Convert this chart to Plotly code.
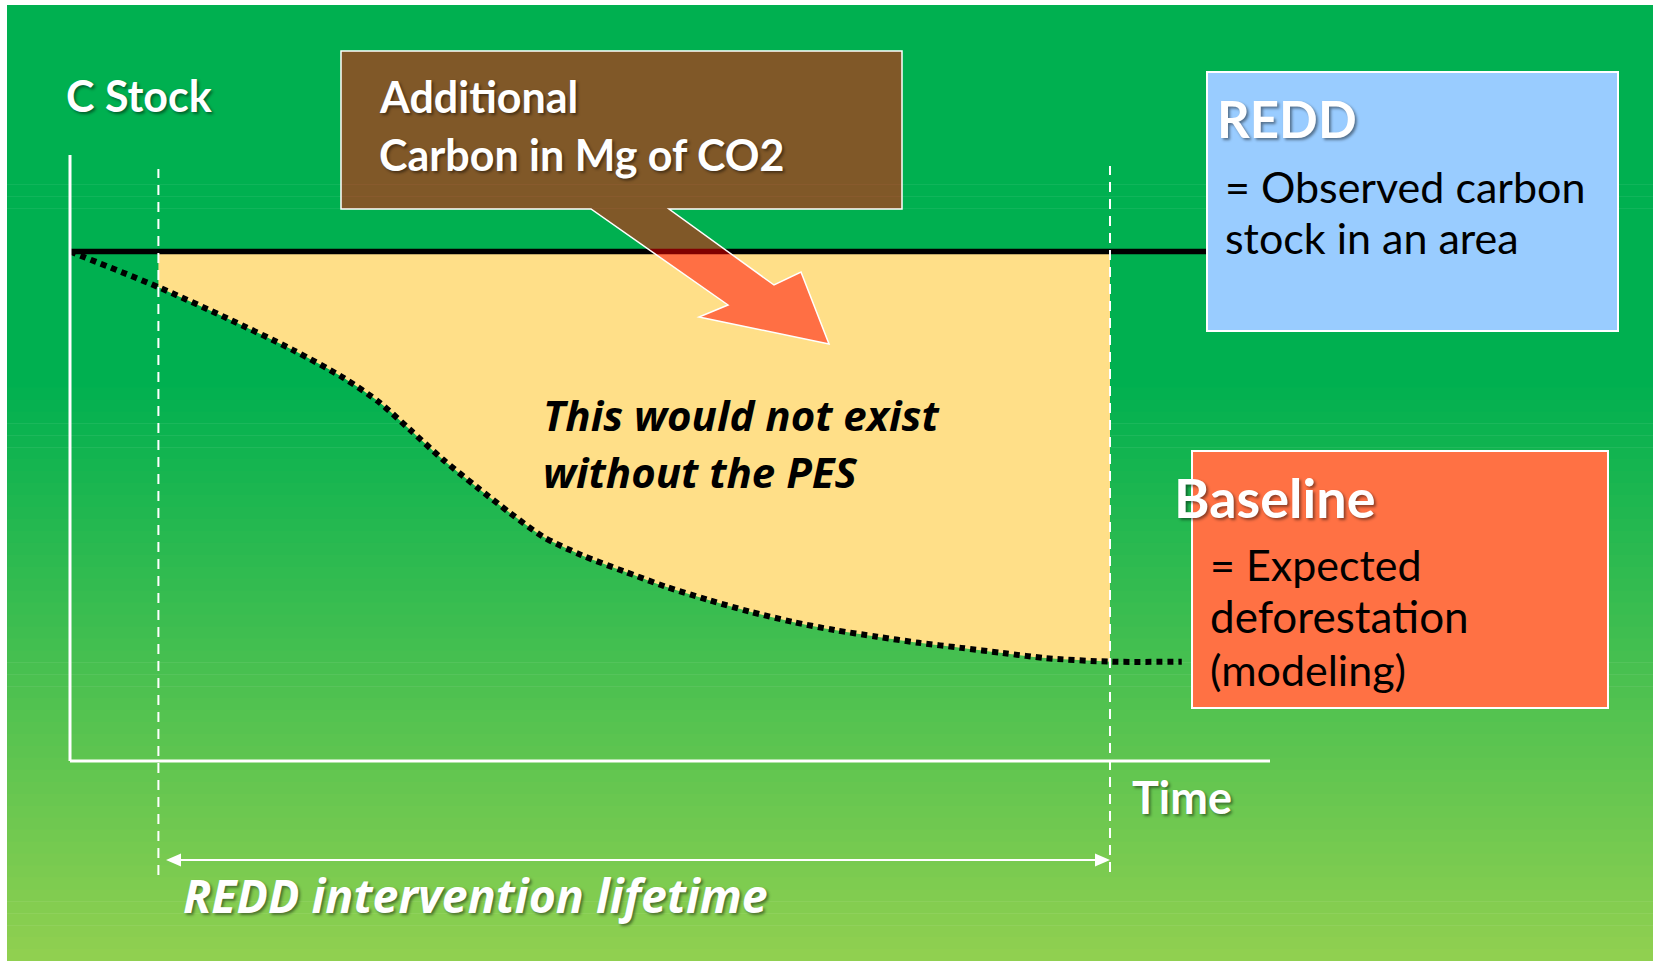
import plotly.graph_objects as go

# ---------------- data ----------------
# time axis in arbitrary units: 0 = origin, 100 = end of REDD intervention
time = [0, 8.5, 15.1, 21.4, 26.3, 29.8, 32.7, 35.9, 39.1, 42.3, 45.5, 49.2, 53.3,
        57.3, 61.4, 65.4, 69.5, 73.5, 77.6, 81.6, 85.7, 89.7, 93.8, 100, 106.9]
# baseline (expected deforestation) carbon stock, % of initial stock
baseline = [100, 93.0, 86.9, 80.7, 75.2, 70.3, 65.0, 59.1, 53.8, 48.7, 44.0, 40.4, 37.2,
            34.2, 31.6, 29.3, 27.3, 25.7, 24.4, 23.2, 22.2, 21.2, 20.2, 19.5, 19.5]
# observed carbon stock under REDD (constant)
observed_time = [0, 109.3]
observed_stock = [100, 100]
# REDD intervention lifetime
intervention = [8.5, 100]

# ---------------- geometry helpers (layout only) ----------------
W, H = 1657, 961
PX_T0, PX_PER_T = 70.0, 10.4      # pixel x of t=0, pixels per time unit
PY_S0, PX_PER_S = 761.0, 5.095    # pixel y of stock=0, pixels per stock unit
x_range = [(0 - PX_T0) / PX_PER_T, (W - PX_T0) / PX_PER_T]
y_range = [(PY_S0 - H) / PX_PER_S, PY_S0 / PX_PER_S]


def px(x):
    return x / W


def py(y):
    return 1 - y / H


def t_of(xpix):
    return (xpix - PX_T0) / PX_PER_T


def s_of(ypix):
    return (PY_S0 - ypix) / PX_PER_S


FONT = "Lato, 'Open Sans', sans-serif"
FONT_IT = "'Open Sans', Lato, sans-serif"
SHADOW = "2px 2px 3px rgba(0,0,0,0.45)"

fig = go.Figure()

# yellow "additional carbon" area between observed stock and baseline
fill_t = [t for t in time if intervention[0] <= t <= intervention[1]]
fill_b = [b for t, b in zip(time, baseline) if intervention[0] <= t <= intervention[1]]
fig.add_trace(go.Scatter(x=[intervention[0], intervention[1]], y=[100, 100], mode="lines",
                         line=dict(width=0, color="rgba(0,0,0,0)"), hoverinfo="skip",
                         showlegend=False))
fig.add_trace(go.Scatter(x=fill_t, y=fill_b, mode="lines", fill="tonexty",
                         fillcolor="rgb(255,223,136)",
                         line=dict(width=0, color="rgba(0,0,0,0)", shape="spline", smoothing=0.8),
                         hoverinfo="skip", showlegend=False))
# observed (REDD) line
fig.add_trace(go.Scatter(x=observed_time, y=observed_stock, mode="lines",
                         line=dict(color="black", width=5.5), showlegend=False))
# baseline dotted line
fig.add_trace(go.Scatter(x=time, y=baseline, mode="lines",
                         line=dict(color="black", width=6, dash="6px,5px", shape="spline",
                                   smoothing=0.8),
                         showlegend=False))

shapes = []
# gradient background (green -> yellow-green)
top_c = (0, 176, 80)
bot_c = (146, 208, 80)
y_start, y_end = 5, 961
grad_from = 380
n = 80
for i in range(n):
    y0 = y_start + (y_end - y_start) * i / n
    y1 = y_start + (y_end - y_start) * (i + 1) / n
    ym = (y0 + y1) / 2
    f = max(0.0, (ym - grad_from) / (y_end - grad_from))
    c = tuple(round(a + (b - a) * f) for a, b in zip(top_c, bot_c))
    shapes.append(dict(type="rect", xref="paper", yref="paper", layer="below",
                       x0=px(7), x1=px(1653), y0=py(y0), y1=py(y1 + 0.6),
                       line=dict(width=0), fillcolor="rgb(%d,%d,%d)" % c))

# axes (white)
shapes.append(dict(type="line", xref="x", yref="y", layer="above", x0=0, x1=0,
                   y0=0, y1=s_of(155), line=dict(color="white", width=3)))
shapes.append(dict(type="line", xref="x", yref="y", layer="above", x0=0, x1=t_of(1270),
                   y0=0, y1=0, line=dict(color="white", width=3)))
# intervention limits (dashed)
shapes.append(dict(type="line", xref="x", yref="y", layer="above",
                   x0=intervention[0], x1=intervention[0], y0=s_of(875), y1=s_of(169),
                   line=dict(color="white", width=2, dash="10px,7px")))
shapes.append(dict(type="line", xref="x", yref="y", layer="above",
                   x0=intervention[1], x1=intervention[1], y0=s_of(872), y1=s_of(166),
                   line=dict(color="white", width=2, dash="10px,7px")))
# double arrow for intervention lifetime
ay_pix = 860
shapes.append(dict(type="line", xref="paper", yref="paper", layer="above",
                   x0=px(176), x1=px(1100), y0=py(ay_pix), y1=py(ay_pix),
                   line=dict(color="white", width=2)))
shapes.append(dict(type="path", xref="paper", yref="paper", layer="above",
                   path="M %f %f L %f %f L %f %f Z" % (px(166), py(ay_pix), px(181), py(ay_pix - 6.5),
                                                       px(181), py(ay_pix + 6.5)),
                   fillcolor="white", line=dict(width=0)))
shapes.append(dict(type="path", xref="paper", yref="paper", layer="above",
                   path="M %f %f L %f %f L %f %f Z" % (px(1110), py(ay_pix), px(1095), py(ay_pix - 6.5),
                                                       px(1095), py(ay_pix + 6.5)),
                   fillcolor="white", line=dict(width=0)))

# callout box with arrow (translucent red)
pts = [(341, 51), (902, 51), (902, 209), (669, 209), (774, 285), (801, 272), (829, 344),
       (699, 317), (728, 305), (591, 209), (341, 209)]
path = "M " + " L ".join("%f %f" % (px(x), py(y)) for x, y in pts) + " Z"
shapes.append(dict(type="path", xref="paper", yref="paper", layer="above", path=path,
                   fillcolor="rgba(255,0,0,0.5)", line=dict(color="white", width=1.5)))

# REDD box
shapes.append(dict(type="rect", xref="paper", yref="paper", layer="above",
                   x0=px(1207), x1=px(1618), y0=py(72), y1=py(331),
                   fillcolor="rgb(153,204,255)", line=dict(color="white", width=2)))
# Baseline box
shapes.append(dict(type="rect", xref="paper", yref="paper", layer="above",
                   x0=px(1192), x1=px(1608), y0=py(451), y1=py(708),
                   fillcolor="rgb(255,113,68)", line=dict(color="white", width=2)))


def ann(text, x, y, size, color="white", bold=True, italic=False, shadow=True, family=FONT):
    font = dict(family=family, size=size, color=color,
                weight="bold" if bold else "normal",
                style="italic" if italic else "normal")
    font["shadow"] = SHADOW if shadow else "none"
    return dict(text=text, xref="paper", yref="paper", x=px(x), y=py(y),
                xanchor="left", yanchor="middle", align="left", showarrow=False,
                font=font)


annotations = [
    ann("C Stock", 64, 95, 43),
    ann("Additional", 377, 97, 43),
    ann("Carbon in Mg of CO2", 377, 154, 43),
    ann("REDD", 1215, 118, 51),
    ann("= Observed carbon", 1223, 186, 43, color="black", bold=False, shadow=False),
    ann("stock in an area", 1223, 238, 43, color="black", bold=False, shadow=False),
    ann("Baseline", 1172, 497, 54),
    ann("= Expected", 1208, 564, 43, color="black", bold=False, shadow=False),
    ann("deforestation", 1208, 616, 44, color="black", bold=False, shadow=False),
    ann("(modeling)", 1208, 669, 43, color="black", bold=False, shadow=False),
    ann("This would not exist", 541, 414, 42, color="black", italic=True,
        shadow=False, family=FONT_IT),
    ann("without the PES", 541, 471, 42, color="black", italic=True,
        shadow=False, family=FONT_IT),
    ann("Time", 1130, 797, 45),
    ann("REDD intervention lifetime", 181, 895, 46.5, italic=True, family=FONT_IT),
]

fig.update_layout(
    width=W, height=H,
    margin=dict(l=0, r=0, t=0, b=0),
    paper_bgcolor="white", plot_bgcolor="rgba(0,0,0,0)",
    xaxis=dict(range=x_range, visible=False, fixedrange=True),
    yaxis=dict(range=y_range, visible=False, fixedrange=True),
    shapes=shapes, annotations=annotations, showlegend=False,
)

fig.write_html("out.html", config={"displayModeBar": False},
               post_script="document.body.style.margin='0px';document.body.style.overflow='hidden';")
